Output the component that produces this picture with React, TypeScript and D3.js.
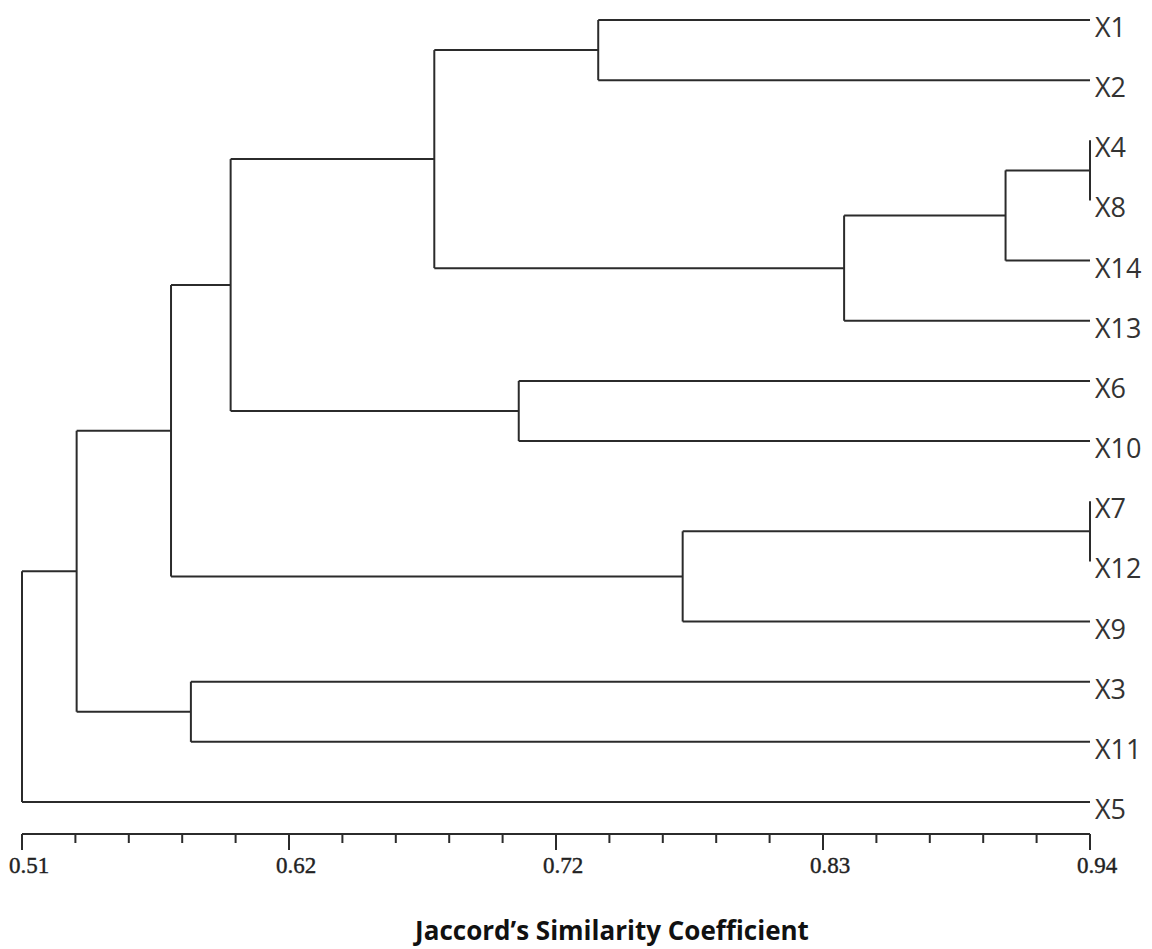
import React from 'react';
import * as d3 from 'd3';

// leaf order top to bottom
const leaves = ['X1', 'X2', 'X4', 'X8', 'X14', 'X13', 'X6', 'X10', 'X7', 'X12', 'X9', 'X3', 'X11', 'X5'];

// merges: id, children, similarity level
const nodeIds = ['N1', 'N2', 'N3', 'N4', 'N5', 'N6', 'N7', 'N8', 'N9', 'N10', 'N11', 'N12', 'N13'];
const nodeChildren = [
  ['X4', 'X8'],
  ['X7', 'X12'],
  ['N1', 'X14'],
  ['N3', 'X13'],
  ['X1', 'X2'],
  ['N2', 'X9'],
  ['X6', 'X10'],
  ['N5', 'N4'],
  ['N8', 'N7'],
  ['X3', 'X11'],
  ['N9', 'N6'],
  ['N11', 'N10'],
  ['N12', 'X5'],
];
const nodeHeights = [0.94, 0.94, 0.906, 0.841, 0.742, 0.776, 0.71, 0.676, 0.594, 0.578, 0.57, 0.532, 0.51];

const axisMin = 0.51;
const axisMax = 0.94;
const majorLabels = ['0.51', '0.62', '0.72', '0.83', '0.94'];
const axisTitle = 'Jaccord\u2019s Similarity Coefficient';

const W = 1152;
const H = 949;
const LINE = '#2b2b2b';

export default function App() {
  const x = d3.scaleLinear().domain([axisMin, axisMax]).range([22, 1090]);
  const y = d3.scalePoint<string>().domain(leaves).range([20, 802]);

  // position of every node (leaf or merge)
  const pos: Record<string, { x: number; y: number }> = {};
  leaves.forEach((l) => (pos[l] = { x: x(axisMax), y: y(l) as number }));
  nodeIds.forEach((id, i) => {
    const [a, b] = nodeChildren[i];
    pos[id] = { x: x(nodeHeights[i]), y: (pos[a].y + pos[b].y) / 2 };
  });

  const segs: [number, number, number, number][] = [];
  nodeIds.forEach((id, i) => {
    const p = pos[id];
    const [a, b] = nodeChildren[i];
    segs.push([p.x, pos[a].y, p.x, pos[b].y]);
    segs.push([p.x, pos[a].y, pos[a].x, pos[a].y]);
    segs.push([p.x, pos[b].y, pos[b].x, pos[b].y]);
  });

  // 20 intervals, major every 5
  const ticks = d3.range(21).map((i) => axisMin + (i * (axisMax - axisMin)) / 20);
  const axisY = 834;

  return (
    <svg width={W} height={H} style={{ position: 'absolute', left: 0, top: 0, background: '#fff' }}>
      <g stroke={LINE} strokeWidth={2} fill="none">
        {segs.map((s, i) => (
          <line key={i} x1={s[0]} y1={s[1]} x2={s[2]} y2={s[3]} />
        ))}
      </g>
      <g fontFamily="'Open Sans', sans-serif" fontSize={27} fill="#333">
        {leaves.map((l) => (
          <text key={l} x={x(axisMax) + 5} y={(y(l) as number) + 17}>
            {l}
          </text>
        ))}
      </g>
      <g stroke={LINE} strokeWidth={2}>
        <line x1={x(axisMin)} x2={x(axisMax)} y1={axisY} y2={axisY} />
        {ticks.map((t, i) => (
          <line key={i} x1={x(t)} x2={x(t)} y1={axisY} y2={axisY + (i % 5 === 0 ? 16 : 9)} />
        ))}
      </g>
      <g fontFamily="'Liberation Serif', serif" fontSize={23} fill="#222" textAnchor="middle" stroke="#222" strokeWidth={0.4}>
        {majorLabels.map((lab, i) => (
          <text key={lab} x={x(ticks[i * 5]) + 7} y={873}>
            {lab}
          </text>
        ))}
      </g>
      <text
        x={612}
        y={940}
        textAnchor="middle"
        fontFamily="'Open Sans', sans-serif"
        fontWeight="bold"
        fontSize={26}
        fill="#111"
      >
        {axisTitle}
      </text>
    </svg>
  );
}
